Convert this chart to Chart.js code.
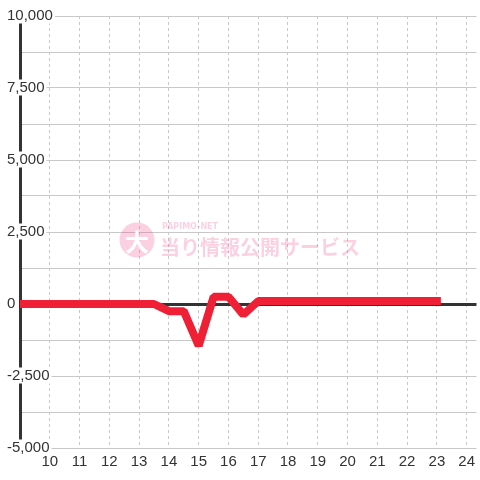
<!DOCTYPE html>
<html>
<head>
<meta charset="utf-8">
<script src="https://cdn.jsdelivr.net/npm/chart.js@4.4.1/dist/chart.umd.min.js"></script>
<style>
  html, body { margin: 0; padding: 0; background: #fff; }
  #wrap { width: 480px; height: 480px; }
</style>
</head>
<body>
<div id="wrap"><canvas id="slumpChart"></canvas></div>
<script>
const hours = [9, 9.5, 10, 10.5, 11, 11.5, 12, 12.5, 13, 13.5,
  14, 14.5, 15, 15.5, 16, 16.5, 17, 17.5, 18, 18.5, 19, 19.5,
  20, 20.5, 21, 21.5, 22, 22.5, 23];
const balance = [0, 0, 0, 0, 0, 0, 0, 0, 0, 0,
  -250, -250, -1450, 250, 250, -370, 100, 100, 100, 100, 100, 100,
  100, 100, 100, 100, 100, 100, 100];
const yTickLabels = [-5000, -2500, 0, 2500, 5000, 7500, 10000];

// pink watermark behind the line
const watermark = {
  id: "watermark",
  beforeDatasetsDraw(chart) {
    const ctx = chart.ctx;
    ctx.save();
    ctx.fillStyle = "rgba(240, 70, 140, 0.25)";
    ctx.beginPath();
    ctx.arc(137, 240, 17.5, 0, Math.PI * 2);
    ctx.fill();
    ctx.fillStyle = "#fff";
    ctx.font = "bold 24px 'Noto Sans CJK JP'";
    ctx.textAlign = "center";
    ctx.textBaseline = "middle";
    ctx.fillText("大", 137, 242);
    ctx.fillStyle = "rgba(240, 70, 140, 0.25)";
    ctx.textAlign = "left";
    ctx.font = "bold 8px 'DejaVu Sans'";
    ctx.fillText("PAPIMO-NET", 162, 227);
    ctx.font = "bold 20px 'Noto Sans CJK JP'";
    ctx.fillText("当り情報公開サービス", 160, 247);
    ctx.restore();
  },
};

new Chart(document.getElementById("slumpChart"), {
  type: "line",
  data: {
    datasets: [
      {
        data: hours.map((h, i) => ({ x: h, y: balance[i] })),
        borderColor: "#ef2035",
        borderWidth: 8,
        borderCapStyle: "square",
        borderJoinStyle: "bevel",
        pointRadius: 0,
        tension: 0,
      },
    ],
  },
  options: {
    responsive: true,
    maintainAspectRatio: false,
    animation: false,
    layout: { padding: { left: 7, top: 16, right: 0, bottom: 0 } },
    plugins: {
      legend: { display: false },
      tooltip: { enabled: false },
    },
    scales: {
      x: {
        type: "linear",
        z: -1,
        min: 9,
        max: 24.33,
        afterFit(scale) {
          scale.height = 32;
        },
        ticks: {
          stepSize: 1,
          includeBounds: false,
          padding: 5,
          color: "#333",
          font: { family: "'Liberation Sans', Arial, sans-serif", size: 15 },
          callback: (v) => (v === 9 ? "" : String(v)),
        },
        grid: { color: "#c8c8c8", lineWidth: 1, drawTicks: false },
        border: { display: false, dash: [3, 3] },
      },
      y: {
        min: -5000,
        max: 10000,
        afterFit(scale) {
          scale.width = 13;
        },
        ticks: {
          stepSize: 1250,
          mirror: true,
          crossAlign: "near",
          padding: -13,
          color: "#333",
          font: { family: "'Liberation Sans', Arial, sans-serif", size: 15, lineHeight: 1 },
          showLabelBackdrop: true,
          backdropPadding: { top: 1, bottom: 0, left: 2, right: 2 },
          backdropColor: (ctx) =>
            yTickLabels.includes(ctx.tick.value) ? "#fff" : "rgba(0,0,0,0)",
          callback: (v) => (yTickLabels.includes(v) ? v.toLocaleString("en-US") : ""),
        },
        grid: {
          drawTicks: false,
          color: (ctx) => (ctx.tick && ctx.tick.value === 0 ? "#333" : "#c8c8c8"),
          lineWidth: (ctx) => (ctx.tick && ctx.tick.value === 0 ? 3 : 1),
        },
        border: { display: true, color: "#333", width: 3 },
      },
    },
  },
  plugins: [watermark],
});
</script>
</body>
</html>
